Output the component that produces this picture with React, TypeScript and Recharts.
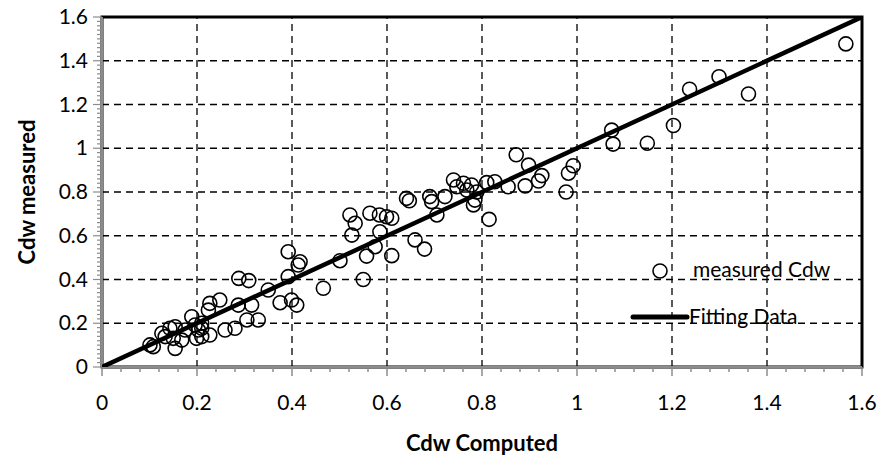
import React from 'react';
import {
  ScatterChart,
  Scatter,
  XAxis,
  YAxis,
  ReferenceLine,
  ReferenceArea,
  Label,
} from 'recharts';

// values
const computedCdw = [
  0.101, 0.108, 0.126, 0.133, 0.143, 0.15, 0.154, 0.154, 0.168, 0.175,
  0.189, 0.196, 0.199, 0.203, 0.21, 0.21, 0.21, 0.224, 0.227, 0.227,
  0.248, 0.259, 0.28, 0.287, 0.288, 0.305, 0.309, 0.315, 0.329, 0.35,
  0.375, 0.392, 0.392, 0.399, 0.41, 0.413, 0.417, 0.466, 0.501,
  0.522, 0.526, 0.533, 0.55, 0.557, 0.564, 0.575, 0.584, 0.585, 0.599,
  0.61, 0.61, 0.641, 0.647, 0.659, 0.679, 0.69, 0.694, 0.705, 0.722,
  0.74, 0.747, 0.761, 0.768, 0.778, 0.782, 0.785, 0.789, 0.81, 0.815,
  0.827, 0.855, 0.872, 0.891, 0.898, 0.919, 0.926, 0.977, 0.982, 0.992,
  1.073, 1.076, 1.148, 1.203, 1.237, 1.299, 1.361, 1.566,
];
const measuredCdw = [
  0.101, 0.093, 0.154, 0.139, 0.177, 0.131, 0.184, 0.085, 0.123, 0.169,
  0.23, 0.192, 0.131, 0.169, 0.2, 0.139, 0.177, 0.26, 0.291, 0.146,
  0.306, 0.169, 0.177, 0.283, 0.405, 0.215, 0.395, 0.283, 0.215, 0.352,
  0.294, 0.413, 0.527, 0.306, 0.283, 0.466, 0.481, 0.36, 0.486,
  0.695, 0.603, 0.657, 0.4, 0.507, 0.703, 0.55, 0.695, 0.618, 0.687,
  0.68, 0.509, 0.771, 0.76, 0.581, 0.539, 0.779, 0.756, 0.695, 0.779,
  0.855, 0.824, 0.84, 0.809, 0.832, 0.741, 0.763, 0.8, 0.843, 0.675,
  0.847, 0.824, 0.97, 0.828, 0.923, 0.85, 0.875, 0.8, 0.886, 0.92,
  1.083, 1.019, 1.023, 1.104, 1.27, 1.327, 1.248, 1.477,
];
const fitX = [0, 1.6];
const fitY = [0, 1.6];
const gridLines = [0.2, 0.4, 0.6, 0.8, 1, 1.2, 1.4];

const measured = computedCdw.map((x, i) => ({ x, y: measuredCdw[i] }));
const fitting = fitX.map((x, i) => ({ x, y: fitY[i] }));

const xMinor = Array.from({ length: 41 }, (_, k) => Math.round(k * 4) / 100);
const yMinor = Array.from({ length: 81 }, (_, k) => Math.round(k * 2) / 100);

const FONT = 'Lato, "Open Sans", sans-serif';
const isMajor = (v: number) => Math.abs(v * 5 - Math.round(v * 5)) < 1e-6;
const fmt = (v: number) => String(Math.round(v * 10) / 10);

const XTick = (props: any) => {
  const { x, y, payload } = props;
  const major = isMajor(payload.value);
  return (
    <g>
      <line x1={x} x2={x} y1={y} y2={y + (major ? 9 : 5)} stroke="#8c8c8c" strokeWidth={1.5} />
      {major && (
        <text x={x} y={y + 43} textAnchor="middle" fontSize={21} fontFamily={FONT} fill="#000">
          {fmt(payload.value)}
        </text>
      )}
    </g>
  );
};

const YTick = (props: any) => {
  const { x, y, payload } = props;
  const major = isMajor(payload.value);
  return (
    <g>
      <line x1={x} x2={x - (major ? 9 : 5)} y1={y} y2={y} stroke="#8c8c8c" strokeWidth={1.2} />
      {major && (
        <text x={x - 14} y={y + 7} textAnchor="end" fontSize={21} fontFamily={FONT} fill="#000">
          {fmt(payload.value)}
        </text>
      )}
    </g>
  );
};

const Ring = (props: any) => (
  <circle cx={props.cx} cy={props.cy} r={7} fill="none" stroke="#000" strokeWidth={1.6} />
);

const LegendBox = () => (
  <div style={{ position: 'absolute', left: 620, top: 256, width: 240, height: 80, fontFamily: FONT, fontSize: 21 }}>
    <svg width={240} height={80} style={{ position: 'absolute', left: 0, top: 0 }}>
      <circle cx={40} cy={15} r={7} fill="none" stroke="#000" strokeWidth={1.6} />
      <line x1={13} x2={67} y1={61} y2={61} stroke="#000" strokeWidth={5} strokeLinecap="round" />
    </svg>
    <span style={{ position: 'absolute', left: 73, top: 0, lineHeight: '26px', whiteSpace: 'nowrap' }}>measured Cdw</span>
    <span style={{ position: 'absolute', left: 69, top: 47, lineHeight: '26px', whiteSpace: 'nowrap' }}>Fitting Data</span>
  </div>
);

export default function App() {
  return (
    <div style={{ position: 'absolute', left: 0, top: 0, width: 882, height: 456, background: '#fff' }}>
      <ScatterChart width={882} height={456} margin={{ top: 17, right: 20, left: 0, bottom: 0 }}>
        <XAxis
          type="number"
          dataKey="x"
          domain={[0, 1.6]}
          ticks={xMinor}
          interval={0}
          height={89}
          tickSize={0}
          tickMargin={0}
          tick={<XTick />}
          axisLine={{ stroke: '#8c8c8c', strokeWidth: 2 }}
          allowDataOverflow
        >
          <Label
            content={(p: any) => {
              const vb = p.viewBox;
              return (
                <text x={vb.x + vb.width / 2} y={vb.y + 84} textAnchor="middle" fontSize={22} fontWeight="bold" fontFamily={FONT}>
                  Cdw Computed
                </text>
              );
            }}
          />
        </XAxis>
        <YAxis
          type="number"
          dataKey="y"
          domain={[0, 1.6]}
          ticks={yMinor}
          interval={0}
          width={102}
          tickSize={0}
          tickMargin={0}
          tick={<YTick />}
          axisLine={{ stroke: '#8c8c8c', strokeWidth: 2 }}
          allowDataOverflow
        >
          <Label
            content={(p: any) => {
              const vb = p.viewBox;
              const cx = 26;
              const cy = vb.y + vb.height / 2;
              return (
                <text x={cx} y={cy} transform={`rotate(-90 ${cx} ${cy})`} textAnchor="middle" dominantBaseline="central" fontSize={22} fontWeight="bold" fontFamily={FONT}>
                  Cdw measured
                </text>
              );
            }}
          />
        </YAxis>
        {gridLines.map((v) => (
          <ReferenceLine key={'gx' + v} x={v} stroke="#000" strokeWidth={1.3} strokeDasharray="7 5" />
        ))}
        {gridLines.map((v) => (
          <ReferenceLine key={'gy' + v} y={v} stroke="#000" strokeWidth={1.3} strokeDasharray="7 5" />
        ))}
        <ReferenceArea x1={0} x2={1.6} y1={0} y2={1.6} fill="none" stroke="#000" strokeWidth={3} />
        <Scatter name="measured Cdw" data={measured} shape={<Ring />} isAnimationActive={false} />
        <Scatter
          name="Fitting Data"
          data={fitting}
          line={{ stroke: '#000', strokeWidth: 4.5 }}
          shape={() => <g />}
          isAnimationActive={false}
        />
      </ScatterChart>
      <LegendBox />
    </div>
  );
}
